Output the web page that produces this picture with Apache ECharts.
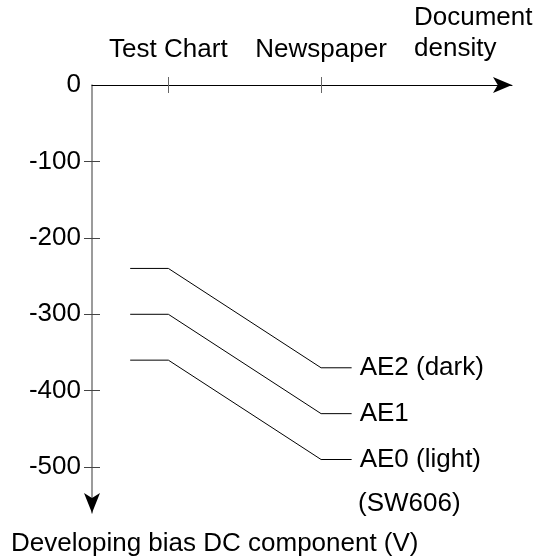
<!DOCTYPE html>
<html>
<head>
<meta charset="utf-8">
<script src="https://cdn.jsdelivr.net/npm/echarts@6/dist/echarts.min.js"></script>
<style>
  html, body { margin: 0; padding: 0; background: #fff; }
  #chart { width: 539px; height: 556px; }
</style>
</head>
<body>
<div id="chart"></div>
<script>
// document density positions (arbitrary units along the x axis)
const xTicks = [2, 6]
const xTickNames = ['Test Chart', 'Newspaper']
const xLine = [1, 2, 6, 6.8]

// developing bias DC component (V)
const yTicks = [-100, -200, -300, -400, -500]
const yLabels = [0, -100, -200, -300, -400, -500]

const seriesNames = ['AE2 (dark)', 'AE1', 'AE0 (light)']
const ae2 = [-240, -240, -370, -370]
const ae1 = [-300, -300, -430, -430]
const ae0 = [-360, -360, -490, -490]

const font = 'Liberation Sans, Arial, sans-serif'

function pairs(ys) {
  return ys.map((v, i) => [xLine[i], v])
}

const xBase = {
  type: 'value',
  position: 'top',
  min: 0,
  max: 11,
  splitLine: { show: false }
}
const yBase = {
  type: 'value',
  position: 'left',
  min: -560,
  max: 0,
  splitLine: { show: false }
}

const option = {
  animation: false,
  textStyle: { fontFamily: font },
  grid: { left: 92, right: 27, top: 85, bottom: 43, outerBoundsMode: 'none' },
  xAxis: [
    Object.assign({}, xBase, {
      axisLine: {
        lineStyle: { color: '#000', width: 1 },
        symbol: ['none', 'arrow'],
        symbolSize: [12, 19]
      },
      axisTick: { show: true, inside: false, length: 8, customValues: xTicks, lineStyle: { color: '#666' } },
      axisLabel: {
        customValues: xTicks,
        margin: 22,
        color: '#000',
        fontSize: 26,
        fontFamily: font,
        formatter: v => xTickNames[xTicks.indexOf(v)]
      }
    }),
    Object.assign({}, xBase, {
      axisLine: { show: false },
      axisTick: { show: true, inside: true, length: 8, customValues: xTicks, lineStyle: { color: '#666' } },
      axisLabel: { show: false }
    })
  ],
  yAxis: [
    Object.assign({}, yBase, {
      axisLine: {
        lineStyle: { color: '#7a7a7a', width: 1.5 }
      },
      axisTick: { show: true, inside: false, length: 8, customValues: yTicks, lineStyle: { color: '#444' } },
      axisLabel: {
        customValues: yLabels,
        margin: 11,
        color: '#000',
        fontSize: 26,
        fontFamily: font
      }
    }),
    Object.assign({}, yBase, {
      // black arrow head only, the gray line comes from the first axis
      axisLine: {
        lineStyle: { color: '#000', width: 0 },
        symbol: ['arrow', 'none'],
        symbolSize: [12, 20]
      },
      axisTick: { show: true, inside: true, length: 8, customValues: yTicks, lineStyle: { color: '#444' } },
      axisLabel: { show: false }
    })
  ],
  graphic: [
    {
      type: 'text', left: 414, top: 2,
      style: { text: 'Document\ndensity', font: '26px ' + font, fill: '#000', lineHeight: 31 }
    },
    {
      type: 'text', left: 358, top: 491,
      style: { text: '(SW606)', font: '26px ' + font, fill: '#000' }
    },
    {
      type: 'text', left: 11, top: 531,
      style: { text: 'Developing bias DC component (V)', font: '26px ' + font, fill: '#000' }
    }
  ],
  series: [ae2, ae1, ae0].map((d, i) => ({
    name: seriesNames[i],
    type: 'line',
    data: pairs(d),
    symbol: 'none',
    lineStyle: { color: '#000', width: 1 },
    endLabel: {
      show: true,
      formatter: '{a}',
      distance: 8,
      color: '#000',
      fontSize: 26,
      fontFamily: font
    }
  }))
}

const chart = echarts.init(document.getElementById('chart'))
chart.setOption(option)
</script>
</body>
</html>
